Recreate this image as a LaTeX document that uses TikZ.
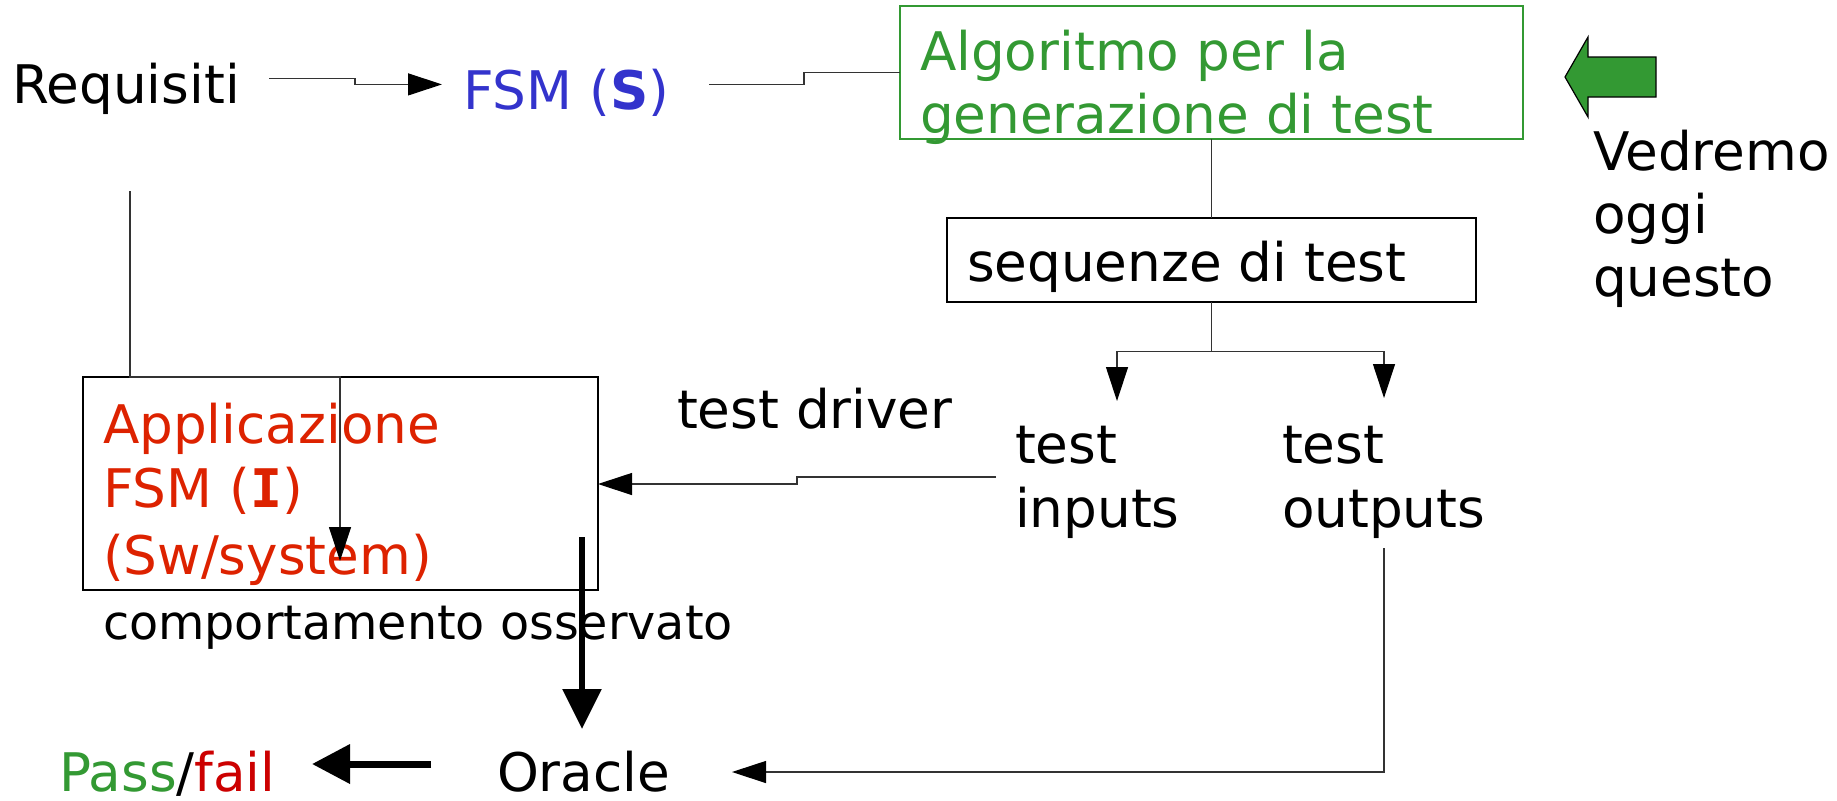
\documentclass[tikz,border=0pt]{standalone}
\usepackage{fontspec}
\setmainfont{DejaVu Sans}
\setmonofont{DejaVu Sans Mono}
\usetikzlibrary{arrows.meta}
\definecolor{sblue}{HTML}{3333CC}
\definecolor{sgreen}{HTML}{339933}
\definecolor{ired}{HTML}{DD2200}
\definecolor{fred}{HTML}{CC0000}
\begin{document}
\begin{tikzpicture}[x=0.5pt,y=-0.5pt,
  txt/.style={anchor=base west, inner sep=0pt, outer sep=0pt, font=\fontsize{26.6pt}{32pt}\selectfont},
  smalltxt/.style={anchor=base west, inner sep=0pt, outer sep=0pt, font=\fontsize{23.8pt}{28pt}\selectfont},
  boxnode/.style={draw=black, line width=0.8pt, inner sep=0pt, outer sep=0pt, anchor=north west},
  gboxnode/.style={draw=sgreen, line width=1pt, inner sep=0pt, outer sep=0pt, anchor=north west},
  thinline/.style={draw=black!80, line width=0.6pt},
  tarrow/.style={thinline, -{Triangle[length=17pt,width=11pt,color=black,fill=black]}},
  bigarrow/.style={draw=black, line width=3pt, -{Triangle[length=20pt,width=19pt]}}
]
\useasboundingbox (0,0) rectangle (1837,800);

% boxes
\node[gboxnode, minimum width=311.5pt, minimum height=66.5pt] (algo) at (900,6) {};
\node[boxnode, minimum width=264.5pt, minimum height=42pt] (seq) at (947,218) {};
\node[boxnode, minimum width=257.5pt, minimum height=106.5pt] (app) at (83,377) {};

% texts
\node[txt] (req) at (12,103) {Requisiti};
\node[txt, text=sblue] (fsms) at (463,109) {FSM (\textbf{S})};
\node[txt, text=sgreen] (algo1) at (920,70) {Algoritmo per la};
\node[txt, text=sgreen] (algo2) at (920,133) {generazione di test};
\node[txt] (seqt) at (967,281) {sequenze di test};
\node[txt] (ved1) at (1593,170) {Vedremo};
\node[txt] (ved2) at (1593,233) {oggi};
\node[txt] (ved3) at (1593,296) {questo};
\node[txt] (ti1) at (1015,463) {test};
\node[txt] (ti2) at (1015,527) {inputs};
\node[txt] (to1) at (1282,463) {test};
\node[txt] (to2) at (1282,527) {outputs};
\node[txt] (drv) at (677,428) {test driver};
\node[txt, text=ired] (app1) at (103,443) {Applicazione};
\node[txt, text=ired] (app2) at (103,507) {FSM ({\ttfamily\bfseries I})};
\node[txt, text=ired] (app3) at (103,574) {(Sw/system)};
\node[smalltxt] (comp) at (103,639) {comportamento osservato};
\node[txt] (oracle) at (497,791) {Oracle};
\node[txt] (pf) at (59,791) {\textcolor{sgreen}{Pass}/\textcolor{fred}{fail}};

% green block arrow
\draw[fill=sgreen, draw=black, line width=0.6pt]
  (1565,77) -- (1588,37) -- (1588,57) -- (1656,57) -- (1656,97) -- (1588,97) -- (1588,117) -- cycle;

% connector end points
\coordinate (reqout) at (269,78.5);
\coordinate (fsmin) at (442,84.4);
\coordinate (fsmout) at (709,84.4);
\coordinate (br) at (1211.5,351.5);
\coordinate (tiin) at (1117,401);
\coordinate (toin) at (1384,398);
\coordinate (tiout) at (996,477);
\coordinate (reqdown) at (130,191);
\coordinate (appin) at (340,561);
\coordinate (obs) at (582,537);
\coordinate (orin) at (582,729);
\coordinate (toout) at (1384,548);
\coordinate (orright) at (732,772);
\coordinate (orleft) at (431,764);
\coordinate (pfin) at (312,764);

% connectors
\draw[tarrow] (reqout) -- (355,78.5) -- (355,84.4) -- (fsmin);
\draw[thinline] (fsmout) -- (804,84.4) -- (804,72.6) -- (algo.west |- 804,72.6);
\draw[thinline] (algo.south) -- (seq.north);
\draw[thinline] (seq.south) -- (br);
\draw[tarrow] (br) -- (1117,351.5) -- (tiin);
\draw[tarrow] (br) -- (1384,351.5) -- (toin);
\draw[tarrow] (tiout) -- (797,477) -- (797,484) -- (app.east |- 797,484);
\draw[tarrow] (reqdown) -- (app.north west -| reqdown) -- (app.north west -| appin) -- (appin);
\draw[bigarrow] (obs) -- (orin);
\draw[tarrow] (toout) -- (toout |- orright) -- (orright);
\draw[draw=black, line width=3.5pt, -{Triangle[length=19pt,width=19pt]}] (orleft) -- (pfin);
\end{tikzpicture}
\end{document}
